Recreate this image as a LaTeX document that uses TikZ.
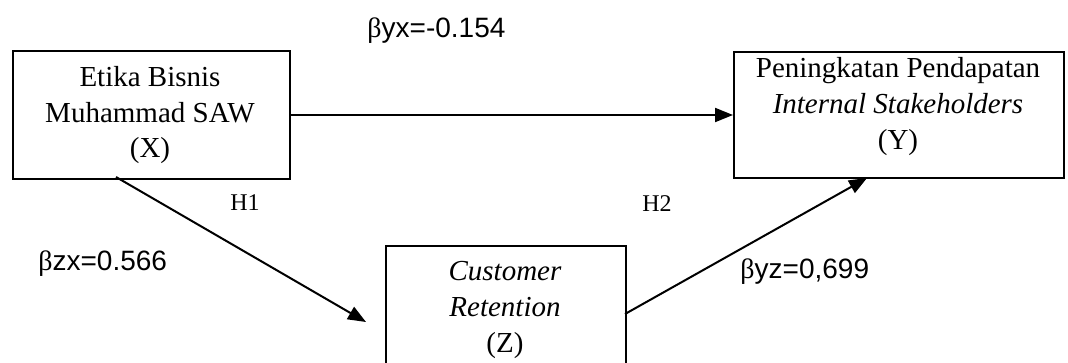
\documentclass[tikz,border=0pt]{standalone}
\usepackage{fontspec}
\setmainfont{Liberation Serif}
\newfontfamily\arialfont{Liberation Sans}
\usetikzlibrary{arrows.meta}
\begin{document}
\begin{tikzpicture}[x=0.5pt,y=-0.5pt,
  box/.style={draw,line width=1pt,inner sep=0pt,anchor=north west},
  boxtext/.style={align=center,anchor=base,inner sep=0pt,font=\fontsize{14.5}{17.8}\selectfont},
  coef/.style={anchor=base west,inner sep=0pt,font=\arialfont\fontsize{14}{16}\selectfont},
  hyp/.style={anchor=base west,inner sep=0pt,font=\fontsize{12}{14}\selectfont},
  conn/.style={line width=1pt,-{Triangle[length=9pt,width=7pt]}}]
\useasboundingbox (0,0) rectangle (1068,363);
\clip (0,0) rectangle (1068,363);
% boxes
\node[box,minimum width=138.5pt,minimum height=64pt] (X) at (12,50) {};
\node[box,minimum width=165pt,minimum height=63pt] (Y) at (733,51) {};
\node[box,minimum width=120pt,minimum height=75pt] (Z) at (385,245) {};
% box texts (anchored at the last line's baseline)
\node[boxtext] (Xt) at (150,158) {Etika Bisnis\\Muhammad SAW\\(X)};
\node[boxtext] (Yt) at (898,149) {Peningkatan Pendapatan\\\textit{Internal Stakeholders}\\(Y)};
\node[boxtext] (Zt) at (505,352) {\textit{Customer}\\\textit{Retention}\\(Z)};
% connectors
\coordinate (xs) at (116,177);
\coordinate (xe) at (366,322);
\coordinate (zs) at (625,314);
\coordinate (ye) at (867,178);
\draw[conn] (X.east |- 0,115) -- (Y.west |- 0,115);
\draw[conn] (xs) -- (xe);
\draw[conn] (zs) -- (ye);
% labels
\node[coef] (byx) at (367,38) {{\rmfamily β}yx=-0.154};
\node[coef] (bzx) at (38,270) {{\rmfamily β}zx=0.566};
\node[coef] (byz) at (740,278) {{\rmfamily β}yz=0,699};
\node[hyp] (H1) at (230,210) {H1};
\node[hyp] (H2) at (642,211) {H2};
\end{tikzpicture}
\end{document}
